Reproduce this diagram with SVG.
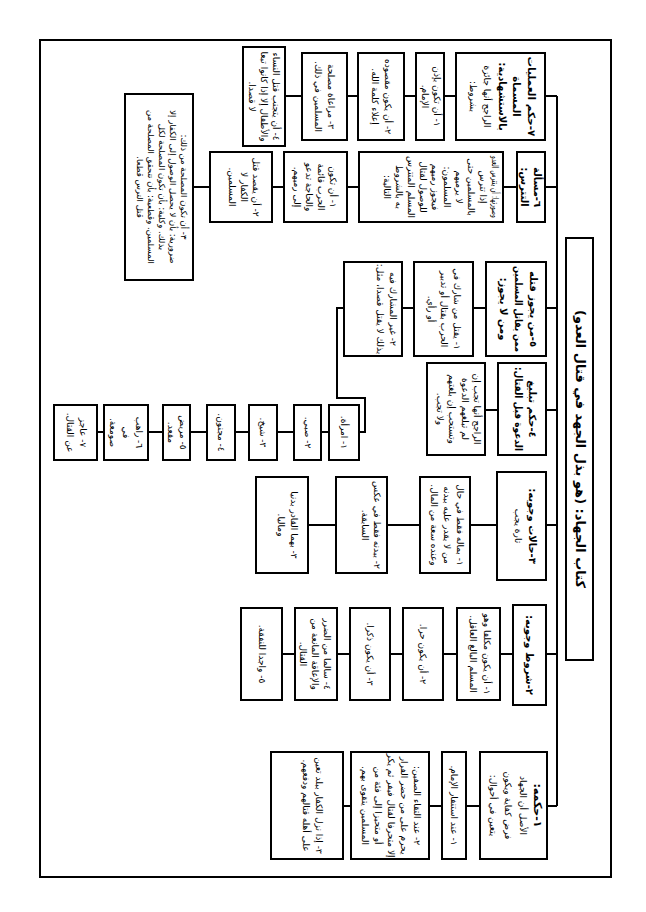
<svg xmlns="http://www.w3.org/2000/svg" width="646" height="912" viewBox="0 0 646 912">
<style>
rect{fill:#fff;stroke:#000;stroke-width:2}
.c{fill:none;stroke:#000;stroke-width:2}
text{font-family:"DejaVu Sans",sans-serif;text-anchor:middle;direction:rtl;fill:#000}
.n{font-size:9px}
.b{font-size:10px;font-weight:bold}
.tt{font-size:13px;font-weight:bold}
</style>
<rect x="40" y="40" width="571" height="837" style="fill:#fff"/>
<g id="connectors">
<path class="c" d="M557 96V806"/>
<path class="c" d="M557 96H285"/>
<path class="c" d="M557 187H193"/>
<path class="c" d="M557 308H344H337V398H365V432H97"/>
<path class="c" d="M557 410H427"/>
<path class="c" d="M557 525H256"/>
<path class="c" d="M557 654H241"/>
<path class="c" d="M557 806H271"/>
</g>
<g id="title"><rect x="566" y="238" width="27" height="422"/>
<text class="tt" transform="translate(579.5,449) rotate(90)" y="4">كتاب الجهاد: (هو بذل الجهد في قتال العدو)</text></g>

<g id="s7"><rect x="456" y="53" width="89" height="87"/>
<text transform="translate(500,96.5) rotate(90)"><tspan class="b" x="0" y="-28" textLength="80" lengthAdjust="spacingAndGlyphs">٧-حكم العمليات</tspan><tspan class="b" x="0" y="-13">المسماة</tspan><tspan class="b" x="0" y="1">بالاستشهادية:</tspan><tspan class="n" x="0" y="16">الراجح أنها جائزة</tspan><tspan class="n" x="0" y="30">بشروط:</tspan></text></g>
<g id="s7c1"><rect x="416" y="53" width="28" height="87"/>
<text class="n" transform="translate(431,96.5) rotate(90)"><tspan x="0" y="-3.3">١- أن تكون بإذن</tspan><tspan x="0" y="8.7">الإمام.</tspan></text></g>
<g id="s7c2"><rect x="358" y="53" width="46" height="87"/>
<text class="n" transform="translate(381,96.5) rotate(90)"><tspan x="0" y="-3.8">٢- أن يكون مقصوده</tspan><tspan x="0" y="9.2">إعلاء كلمة الله.</tspan></text></g>
<g id="s7c3"><rect x="302" y="53" width="45" height="87"/>
<text class="n" transform="translate(324.5,96.5) rotate(90)"><tspan x="0" y="-3.8">٣- مراعاة مصلحة</tspan><tspan x="0" y="9.2">المسلمين في ذلك.</tspan></text></g>
<g id="s7c4"><rect x="243" y="47" width="42" height="99"/>
<text class="n" transform="translate(264,96.5) rotate(90)"><tspan x="0" y="-9.3">٤- أن يتجنب قتل النساء</tspan><tspan x="0" y="2.7">والأطفال إلا إذا كانوا تبعا</tspan><tspan x="0" y="14.7">لا قصدا.</tspan></text></g>

<g id="s6"><rect x="517" y="152" width="28" height="70"/>
<text class="b" transform="translate(531,187) rotate(90)"><tspan x="0" y="-3">٦-مسألة</tspan><tspan x="0" y="10">التترس:</tspan></text></g>
<g id="s6c1"><rect x="359" y="152" width="144" height="70"/>
<text class="n" transform="translate(441,187) rotate(90)"><tspan x="0" y="-51.3" textLength="62" lengthAdjust="spacingAndGlyphs">وصورتها: أن يتترس العدو</tspan><tspan x="0" y="-39.3">إذا تترس</tspan><tspan x="0" y="-27.3">بالمسلمين حتى</tspan><tspan x="0" y="-15.3">لا يرميهم</tspan><tspan x="0" y="-3.3">المسلمون:</tspan><tspan x="0" y="8.7">فيجوز رميهم</tspan><tspan x="0" y="20.7">للوصول لقتال</tspan><tspan x="0" y="32.7">المسلم المتترس</tspan><tspan x="0" y="44.7">به بالشروط</tspan><tspan x="0" y="56.7">التالية:</tspan></text></g>
<g id="s6c2"><rect x="284" y="152" width="63" height="70"/>
<text class="n" transform="translate(315,187) rotate(90)"><tspan x="0" y="-15.3">١- أن تكون</tspan><tspan x="0" y="-3.3">الحرب قائمة</tspan><tspan x="0" y="8.7">والحاجة تدعو</tspan><tspan x="0" y="20.7">إلى رميهم.</tspan></text></g>
<g id="s6c3"><rect x="210" y="152" width="62" height="70"/>
<text class="n" transform="translate(244,187) rotate(90)"><tspan x="0" y="-9.3">٢- أن يقصد قتل</tspan><tspan x="0" y="2.7">الكفار لا</tspan><tspan x="0" y="14.7">المسلمين.</tspan></text></g>
<g id="s6c4"><rect x="125" y="94" width="68" height="186"/>
<text class="n" transform="translate(161,187) rotate(90)" style="font-size:8.5px"><tspan x="0" y="-19.5">٣- أن تكون المصلحة من ذلك:</tspan><tspan x="0" y="-8.5">ضرورية: بأن لا يحصل الوصول إلى الكفار إلا</tspan><tspan x="0" y="2.5">بذلك. وكلية: بأن تكون المصلحة لكل</tspan><tspan x="0" y="13.5">المسلمين. وقطعية: بأن تتحقق المصلحة من</tspan><tspan x="0" y="24.5">قتل الترس قطعا.</tspan></text></g>

<g id="s5"><rect x="486" y="262" width="60" height="94"/>
<text class="b" transform="translate(518,309) rotate(90)"><tspan x="0" y="-12">٥-من يجوز قتله</tspan><tspan x="0" y="3" textLength="86" lengthAdjust="spacingAndGlyphs">ممن يقاتل المسلمين</tspan><tspan x="0" y="18">ومن لا يجوز:</tspan></text></g>
<g id="s5c1"><rect x="414" y="262" width="59" height="94"/>
<text class="n" transform="translate(444,309) rotate(90)"><tspan x="0" y="-10.3">١- يقتل من شارك في</tspan><tspan x="0" y="2.7">الحرب بقتال أو تدبير</tspan><tspan x="0" y="15.7">أو رأي.</tspan></text></g>
<g id="s5c2"><rect x="344" y="262" width="58" height="94"/>
<text class="n" transform="translate(386,309) rotate(90)"><tspan x="0" y="-3.8">٢- غير المشارك فيه</tspan><tspan x="0" y="9.2">بذلك لا يقتل قصدا، مثل:</tspan></text></g>

<g id="l1"><rect x="329" y="405" width="30" height="55"/><text class="n" transform="translate(344,432.5) rotate(90)" y="2.7">١- امرأة.</text></g>
<g id="l2"><rect x="294" y="405" width="27" height="55"/><text class="n" transform="translate(307.5,432.5) rotate(90)" y="2.7">٢- صبي.</text></g>
<g id="l3"><rect x="249" y="405" width="28" height="55"/><text class="n" transform="translate(263,432.5) rotate(90)" y="2.7">٣- شيخ.</text></g>
<g id="l4"><rect x="207" y="405" width="28" height="55"/><text class="n" transform="translate(221,432.5) rotate(90)" y="2.7">٤- مجنون.</text></g>
<g id="l5"><rect x="163" y="405" width="27" height="55"/><text class="n" transform="translate(176.5,432.5) rotate(90)"><tspan x="0" y="-3.3">٥- مريض</tspan><tspan x="0" y="8.7">مقعد.</tspan></text></g>
<g id="l6"><rect x="104" y="405" width="44" height="55"/><text class="n" transform="translate(126,432.5) rotate(90)"><tspan x="0" y="-10.3">٦- راهب</tspan><tspan x="0" y="2.7">في</tspan><tspan x="0" y="15.7">صومعة.</tspan></text></g>
<g id="l7"><rect x="54" y="405" width="43" height="55"/><text class="n" transform="translate(76,432.5) rotate(90)"><tspan x="0" y="-3.8">٧- عاجز</tspan><tspan x="0" y="9.2">عن القتال.</tspan></text></g>

<g id="s4"><rect x="498" y="363" width="48" height="92"/>
<text class="b" transform="translate(525,409) rotate(90)"><tspan x="0" y="-4">٤-حكم تبليغ</tspan><tspan x="0" y="10" textLength="84" lengthAdjust="spacingAndGlyphs">الدعوة قبل القتال:</tspan></text></g>
<g id="s4c1"><rect x="427" y="363" width="58" height="92"/>
<text class="n" transform="translate(458,409) rotate(90)"><tspan x="0" y="-16">الراجح أنها تجب إن</tspan><tspan x="0" y="-3.5">لم تبلغهم الدعوة</tspan><tspan x="0" y="9">وتستحب إن بلغتهم</tspan><tspan x="0" y="21.5">ولا تجب.</tspan></text></g>

<g id="s3"><rect x="497" y="472" width="49" height="108"/>
<text transform="translate(526,526) rotate(90)"><tspan class="b" x="0" y="-3">٣-حالات وجوبه:</tspan><tspan class="n" x="0" y="11">تارة يجب</tspan></text></g>
<g id="s3c1"><rect x="420" y="477" width="50" height="96"/>
<text class="n" transform="translate(447,525) rotate(90)"><tspan x="0" y="-10.3">١- بماله فقط في حال</tspan><tspan x="0" y="2.7">من لا يقدر عليه ببدنه</tspan><tspan x="0" y="15.7">وعنده سعة من المال.</tspan></text></g>
<g id="s3c2"><rect x="336" y="477" width="51" height="96"/>
<text class="n" transform="translate(371,525) rotate(90)"><tspan x="0" y="-3.3">٢- ببدنه فقط في عكس</tspan><tspan x="0" y="8.7">السابقة.</tspan></text></g>
<g id="s3c3"><rect x="256" y="477" width="52" height="96"/>
<text class="n" transform="translate(287,525) rotate(90)"><tspan x="0" y="-3.8">٣- بهما القادر بدنيا</tspan><tspan x="0" y="9.2">وماليا.</tspan></text></g>

<g id="s2"><rect x="513" y="605" width="33" height="100"/>
<text class="b" transform="translate(529.5,655) rotate(90)" y="3.5">٢-شروط وجوبه:</text></g>
<g id="s2c1"><rect x="457" y="608" width="43" height="92"/>
<text class="n" transform="translate(480,654) rotate(90)"><tspan x="0" y="-4.3">١- أن يكون مكلفا وهو</tspan><tspan x="0" y="9.7">المسلم البالغ العاقل.</tspan></text></g>
<g id="s2c2"><rect x="403" y="608" width="40" height="92"/>
<text class="n" transform="translate(423,654) rotate(90)" y="2.7">٢- أن يكون حرا.</text></g>
<g id="s2c3"><rect x="350" y="608" width="40" height="92"/>
<text class="n" transform="translate(370,654) rotate(90)" y="2.7">٣- أن يكون ذكرا.</text></g>
<g id="s2c4"><rect x="295" y="608" width="42" height="92"/>
<text class="n" transform="translate(315,654) rotate(90)"><tspan x="0" y="-9.3">٤- سالما من الضرر</tspan><tspan x="0" y="2.7">والإعاقة المانعة من</tspan><tspan x="0" y="14.7">القتال.</tspan></text></g>
<g id="s2c5"><rect x="241" y="608" width="41" height="92"/>
<text class="n" transform="translate(262,654) rotate(90)" y="2.7">٥- واجدا للنفقة.</text></g>

<g id="s1"><rect x="480" y="752" width="67" height="107"/>
<text transform="translate(514,805.5) rotate(90)"><tspan class="b" x="0" y="-20" style="font-size:11px">١-حكمه:</tspan><tspan class="n" x="0" y="-6">الأصل أن الجهاد</tspan><tspan class="n" x="0" y="9">فرض كفاية ويكون</tspan><tspan class="n" x="0" y="24">يتعين في أحوال:</tspan></text></g>
<g id="s1c1"><rect x="442" y="752" width="24" height="107"/>
<text class="n" transform="translate(454,805.5) rotate(90)" y="2.7">١- عند استنفار الإمام.</text></g>
<g id="s1c2"><rect x="351" y="752" width="78" height="107"/>
<text class="n" transform="translate(391,805.5) rotate(90)"><tspan x="0" y="-23.3">٢- عند التقاء الصفين:</tspan><tspan x="0" y="-10.3">يحرم على من حضر الفرار</tspan><tspan x="0" y="2.7">إلا متحرفا لقتال فيفر ثم يكر</tspan><tspan x="0" y="15.7">أو متحيزا إلى فئة من</tspan><tspan x="0" y="28.7">المسلمين يتقوى بهم.</tspan></text></g>
<g id="s1c3"><rect x="271" y="752" width="72" height="107"/>
<text class="n" transform="translate(312,805.5) rotate(90)"><tspan x="0" y="-3.8">٣- إذا نزل الكفار ببلد تعين</tspan><tspan x="0" y="9.2">على أهله قتالهم ودفعهم.</tspan></text></g>
</svg>
